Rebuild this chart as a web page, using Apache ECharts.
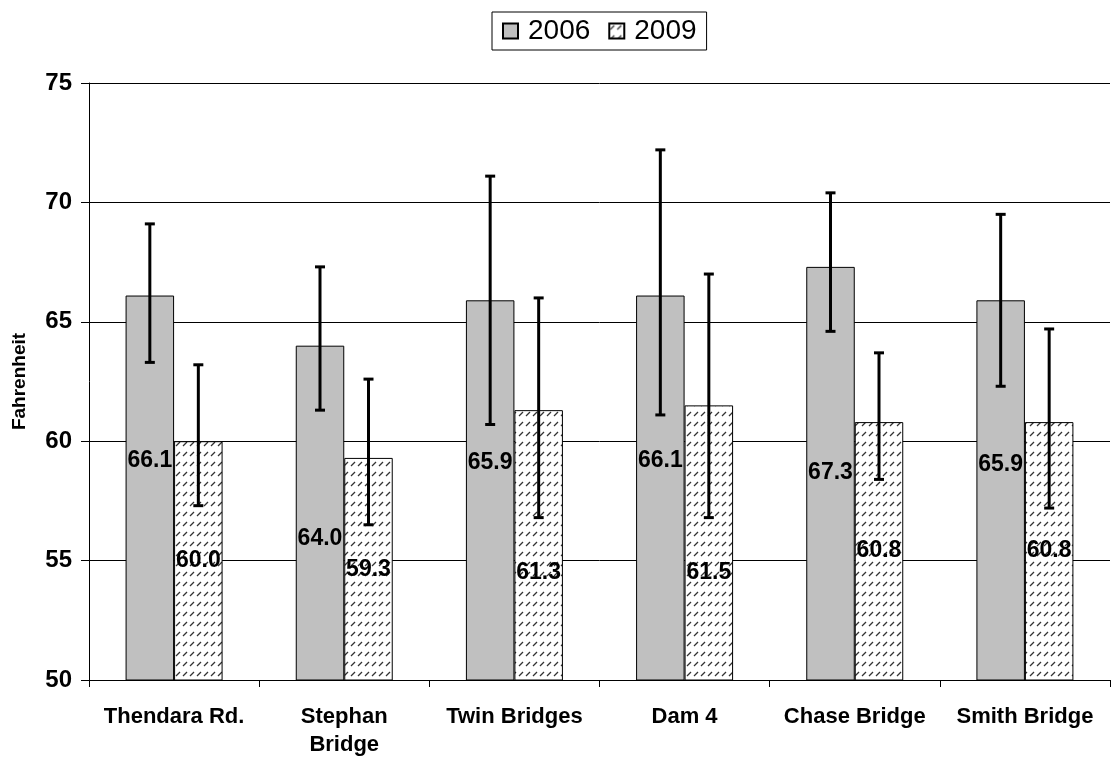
<!DOCTYPE html>
<html>
<head>
<meta charset="utf-8">
<script src="https://cdn.jsdelivr.net/npm/echarts@6/dist/echarts.min.js"></script>
<style>
html,body{margin:0;padding:0;background:#fff;}
#chart{width:1112px;height:760px;}
</style>
</head>
<body>
<div id="chart"></div>
<script>
// ---- data ----
const categories = ['Thendara Rd.', 'Stephan\nBridge', 'Twin Bridges', 'Dam 4', 'Chase Bridge', 'Smith Bridge'];
const seriesNames = ['2006', '2009'];
const values2006 = [66.1, 64.0, 65.9, 66.1, 67.3, 65.9];
const values2009 = [60.0, 59.3, 61.3, 61.5, 60.8, 60.8];
const errLow2006 = [63.3, 61.3, 60.7, 61.1, 64.6, 62.3];
const errHigh2006 = [69.1, 67.3, 71.1, 72.2, 70.4, 69.5];
const errLow2009 = [57.3, 56.5, 56.8, 56.8, 58.4, 57.2];
const errHigh2009 = [63.2, 62.6, 66.0, 67.0, 63.7, 64.7];
const yTicks = [50, 55, 60, 65, 70, 75];

// ---- layout (label anchors in axis units) ----
const labelAt2006 = [59.2, 55.9, 59.1, 59.2, 58.7, 59.0];
const labelAt2009 = [55.0, 54.6, 54.5, 54.5, 55.4, 55.4];

const FONT = '"Liberation Sans", Arial, sans-serif';
const CAT_GAP = 0.43;
const OFFSET = (1 - CAT_GAP) / 4; // center offset of each bar as fraction of band

// hatch tile
function makeHatch() {
  const c = document.createElement('canvas');
  c.width = 7; c.height = 10;
  const g = c.getContext('2d');
  g.fillStyle = '#fff';
  g.fillRect(0, 0, 7, 10);
  g.strokeStyle = '#333';
  g.lineWidth = 1.3;
  g.beginPath();
  g.moveTo(1, 6);
  g.lineTo(5, 2);
  g.stroke();
  return c;
}
const hatch = { image: makeHatch(), repeat: 'repeat' };

function errData(lo, hi) { return lo.map((l, i) => [i, l, hi[i]]); }
function labelData(anchor, vals) { return anchor.map((a, i) => [i, a, vals[i]]); }

function errRender(sign) {
  return function (params, api) {
    const band = api.size([1, 0])[0];
    const cx = api.coord([api.value(0), 0])[0] + sign * OFFSET * band;
    const yl = api.coord([api.value(0), api.value(1)])[1];
    const yh = api.coord([api.value(0), api.value(2)])[1];
    const st = { stroke: '#000', lineWidth: 3 };
    return {
      type: 'group',
      children: [
        { type: 'line', shape: { x1: cx, y1: yl, x2: cx, y2: yh }, style: st },
        { type: 'line', shape: { x1: cx - 5, y1: yl, x2: cx + 5, y2: yl }, style: st },
        { type: 'line', shape: { x1: cx - 5, y1: yh, x2: cx + 5, y2: yh }, style: st }
      ]
    };
  };
}
function labelRender(sign) {
  return function (params, api) {
    const band = api.size([1, 0])[0];
    const cx = api.coord([api.value(0), 0])[0] + sign * OFFSET * band;
    const cy = api.coord([api.value(0), api.value(1)])[1];
    return {
      type: 'text',
      x: cx, y: cy,
      style: {
        text: Number(api.value(2)).toFixed(1),
        fill: '#000',
        font: 'bold 23px ' + FONT,
        align: 'center',
        verticalAlign: 'middle'
      }
    };
  };
}

const chart = echarts.init(document.getElementById('chart'), null, { renderer: 'canvas' });
chart.setOption({
  animation: false,
  backgroundColor: '#fff',
  textStyle: { fontFamily: FONT },
  legend: {
    data: seriesNames,
    icon: 'rect',
    left: 492,
    top: 12,
    itemWidth: 15,
    itemHeight: 15,
    itemGap: 18,
    padding: [5, 10, 5, 10],
    borderColor: '#000',
    borderWidth: 1,
    textStyle: { fontSize: 28, color: '#000', fontFamily: FONT, padding: [0, 0, 0, 5] }
  },
  grid: { left: 89, right: 2, top: 83, bottom: 80, containLabel: false, outerBoundsMode: 'none' },
  xAxis: {
    type: 'category',
    data: categories,
    axisLine: { lineStyle: { color: '#000', width: 1 } },
    axisTick: { show: true, length: 7, lineStyle: { color: '#000' } },
    axisLabel: {
      color: '#000', fontWeight: 'bold', fontSize: 22, fontFamily: FONT,
      margin: 23, lineHeight: 28, interval: 0
    }
  },
  yAxis: {
    type: 'value',
    min: yTicks[0],
    max: yTicks[yTicks.length - 1],
    interval: 5,
    name: 'Fahrenheit',
    nameLocation: 'middle',
    nameGap: 60,
    nameTextStyle: { color: '#000', fontWeight: 'bold', fontSize: 19, fontFamily: FONT },
    axisLine: { show: true, lineStyle: { color: '#000', width: 1 } },
    axisTick: { show: true, length: 8, lineStyle: { color: '#000' } },
    axisLabel: { color: '#000', fontWeight: 'bold', fontSize: 24, fontFamily: FONT, margin: 17 },
    splitLine: { show: true, lineStyle: { color: '#000', width: 1 } }
  },
  series: [
    {
      name: '2006', type: 'bar', data: values2006,
      barGap: '0%', barCategoryGap: (CAT_GAP * 100) + '%',
      itemStyle: { color: '#c0c0c0', borderColor: '#000', borderWidth: 1 }
    },
    {
      name: '2009', type: 'bar', data: values2009,
      barGap: '0%', barCategoryGap: (CAT_GAP * 100) + '%',
      itemStyle: { color: hatch, borderColor: '#000', borderWidth: 1 }
    },
    { type: 'custom', name: 'lbl2006', data: labelData(labelAt2006, values2006), renderItem: labelRender(-1), z: 5, silent: true },
    { type: 'custom', name: 'lbl2009', data: labelData(labelAt2009, values2009), renderItem: labelRender(1), z: 5, silent: true },
    { type: 'custom', name: 'err2006', data: errData(errLow2006, errHigh2006), renderItem: errRender(-1), z: 6, silent: true },
    { type: 'custom', name: 'err2009', data: errData(errLow2009, errHigh2009), renderItem: errRender(1), z: 6, silent: true }
  ]
});
</script>
</body>
</html>
